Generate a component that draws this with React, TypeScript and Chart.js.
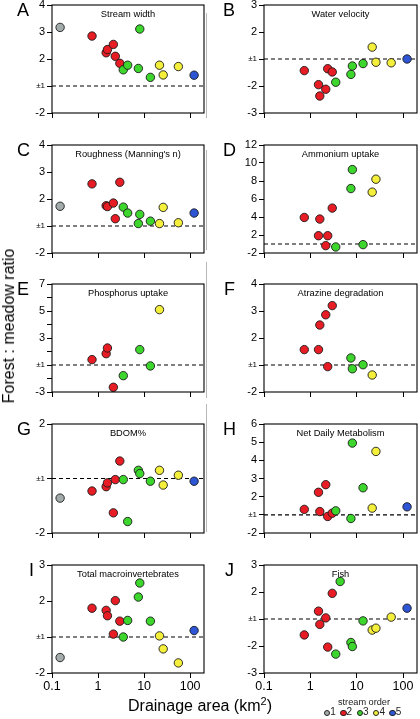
import React, { useEffect, useRef } from 'react';
import { Chart, registerables } from 'chart.js';

Chart.register(...registerables);

const FONT = '"Liberation Sans", Arial, Helvetica, sans-serif';

// ---- data ----
const drainageArea = [0.15, 0.74, 1.5, 1.6, 2.15, 2.37, 2.97, 3.53, 4.4, 7.5, 8.06, 13.7, 21.6, 26, 55.5, 122];
const streamOrder = [1, 2, 2, 2, 2, 2, 2, 3, 3, 3, 3, 3, 4, 4, 4, 5];
const orderLabels = ['1', '2', '3', '4', '5'];
const orderColors = ['#a3abab', '#e81c24', '#3cd62c', '#f4ef3a', '#2e55d4'];

// forest : meadow ratio (negative = meadow greater, i.e. -x means 1/x)
const streamWidth = [3.17, 2.85, 2.23, 2.35, 2.54, 2.1, 1.84, 1.6, 1.77, 1.65, 3.11, 1.32, 1.77, 1.41, 1.72, 1.4];
const waterVelocity = [null, -1.43, -1.95, -2.37, -2.12, -1.36, -1.48, -1.86, null, -1.57, -1.26, -1.17, 1.44, -1.12, -1.14, 1.0];
const roughness = [1.73, 2.56, 1.75, 1.72, 1.85, 1.27, 2.62, 1.7, 1.48, 1.09, 1.43, 1.18, 1.09, 1.69, 1.12, 1.48];
const ammoniumUptake = [null, 3.95, 1.92, 3.77, -1.18, 1.92, 4.99, -1.33, null, 7.16, 9.27, -1.07, 6.76, 8.2, null, null];
const phosphorusUptake = [null, 1.4, 1.84, 2.26, -2.65, null, null, -1.79, null, null, 2.14, -1.07, 5.1, null, null, null];
const atrazineDegradation = [null, 1.57, 1.57, 2.48, 2.86, -1.06, 3.2, null, null, 1.26, -1.14, 1.01, -1.37, null, null, null];
const bdomPercent = [-1.36, -1.23, -1.15, -1.08, -1.63, -1.02, 1.32, -1.02, -1.79, 1.15, 1.09, -1.05, 1.15, -1.12, 1.06, -1.05];
const netDailyMetabolism = [null, 1.3, 2.24, 1.18, 2.66, -1.09, 1.09, 1.22, null, -1.2, 4.95, 2.49, 1.37, 4.49, null, 1.44];
const totalMacroinvertebrates = [-1.57, 1.8, 1.74, 1.59, 1.08, 2.01, 1.44, 1.0, 1.46, 2.11, 2.5, 1.44, 1.03, -1.33, -1.72, 1.18];
const fish = [null, -1.59, 1.29, -1.2, 1.04, -2.04, 1.95, -2.3, 2.39, -1.87, -2.02, -1.07, -1.41, -1.34, 1.07, 1.4];

// tick labels (ratio space)
const ticksStreamWidth = [-2, 1, 2, 3, 4];
const ticksWaterVelocity = [-3, -2, 1, 2, 3];
const ticksRoughness = [-2, 1, 2, 3, 4];
const ticksAmmonium = [-2, 2, 4, 6, 8, 10, 12];
const ticksPhosphorus = [-3, 1, 3, 5, 7];
const minorPhosphorus = [-2, 2, 4, 6];
const ticksAtrazine = [-2, 1, 2, 3, 4];
const ticksBdom = [-2, 1, 2];
const ticksMetabolism = [-2, 1, 2, 3, 4, 5, 6];
const ticksMacro = [-2, 1, 2, 3];
const ticksFish = [-3, -2, 1, 2, 3];

const xTickValues = [0.1, 1, 10, 100];
const xMin = 0.1;
const xMax = 200;

const panels = [
  { letter: 'A', title: 'Stream width', values: streamWidth, ticks: ticksStreamWidth, minor: [] as number[] },
  { letter: 'B', title: 'Water velocity', values: waterVelocity, ticks: ticksWaterVelocity, minor: [] as number[] },
  { letter: 'C', title: "Roughness (Manning's n)", values: roughness, ticks: ticksRoughness, minor: [] as number[] },
  { letter: 'D', title: 'Ammonium uptake', values: ammoniumUptake, ticks: ticksAmmonium, minor: [] as number[] },
  { letter: 'E', title: 'Phosphorus uptake', values: phosphorusUptake, ticks: ticksPhosphorus, minor: minorPhosphorus },
  { letter: 'F', title: 'Atrazine degradation', values: atrazineDegradation, ticks: ticksAtrazine, minor: [] as number[] },
  { letter: 'G', title: 'BDOM%', values: bdomPercent, ticks: ticksBdom, minor: [] as number[] },
  { letter: 'H', title: 'Net Daily Metabolism', values: netDailyMetabolism, ticks: ticksMetabolism, minor: [] as number[] },
  { letter: 'I', title: 'Total macroinvertebrates', values: totalMacroinvertebrates, ticks: ticksMacro, minor: [] as number[] },
  { letter: 'J', title: 'Fish', values: fish, ticks: ticksFish, minor: [] as number[] },
];

// ---- layout ----
const COL_LEFT = [0, 210];
const PLOT_LEFT = [52, 264];
const PLOT_RIGHT = [204, 417];
const ROW_TOP = [5, 145, 284, 424, 565];
const ROW_BOTTOM = [113, 253, 392, 533, 673];
const LETTER_X = [17, 223, 17, 223, 17, 224, 17, 223, 29, 225];

const toInternal = (v: number) => (v >= 1 ? v - 1 : v + 1);
const tickLabel = (t: number) => {
  const r = Math.round(t * 1000) / 1000;
  if (Math.abs(r) < 1e-9) return '±1';
  return String(r > 0 ? r + 1 : r - 1);
};

function Panel({ p, col, row }: { p: (typeof panels)[number]; col: number; row: number }) {
  const ref = useRef<HTMLCanvasElement>(null);
  const left = COL_LEFT[col];
  const width = 210;
  const padTop = 10;
  const isBottom = row === 4;
  const xH = isBottom ? 26 : 9;
  const plotH = ROW_BOTTOM[row] - ROW_TOP[row];
  const height = padTop + plotH + xH;
  const canvasTop = ROW_TOP[row] - padTop;

  useEffect(() => {
    const canvas = ref.current;
    if (!canvas) return;
    const labeled = p.ticks.map(toInternal);
    const minorT = p.minor.map(toInternal);
    const allTicks = [...labeled, ...minorT].sort((a, b) => a - b);
    const yMin = Math.min(...labeled);
    const yMax = Math.max(...labeled);

    const pts: { x: number; y: number }[] = [];
    const cols: string[] = [];
    p.values.forEach((v, i) => {
      if (v === null || v === undefined) return;
      pts.push({ x: drainageArea[i], y: toInternal(v as number) });
      cols.push(orderColors[streamOrder[i] - 1]);
    });

    const title = p.title;
    const framePlugin = {
      id: 'frameTitle',
      afterDraw(chart: any) {
        const { ctx, chartArea: a } = chart;
        ctx.save();
        ctx.strokeStyle = '#000';
        ctx.lineWidth = 1.1;
        ctx.strokeRect(a.left, a.top, a.right - a.left, a.bottom - a.top);
        ctx.fillStyle = '#000';
        ctx.font = `9.3px ${FONT}`;
        ctx.textAlign = 'center';
        ctx.textBaseline = 'alphabetic';
        ctx.fillText(title, (a.left + a.right) / 2, a.top + 11.5);
        ctx.restore();
      },
    };

    const chart = new Chart(canvas, {
      type: 'scatter',
      data: {
        datasets: [
          {
            type: 'scatter',
            data: pts,
            pointRadius: 4.2,
            pointBorderWidth: 0.9,
            pointBorderColor: '#1a1a1a',
            pointBackgroundColor: cols,
            backgroundColor: cols,
          } as any,
          {
            type: 'line',
            data: [
              { x: xMin, y: 0 },
              { x: xMax, y: 0 },
            ],
            borderColor: '#000',
            borderWidth: 1.2,
            borderDash: [4, 3],
            pointRadius: 0,
            fill: false,
          } as any,
        ],
      },
      options: {
        animation: false,
        responsive: false,
        events: [],
        layout: { autoPadding: false, padding: { top: padTop, left: 0, bottom: 0, right: left + width - PLOT_RIGHT[col] } } as any,
        plugins: { legend: { display: false }, tooltip: { enabled: false } },
        scales: {
          x: {
            type: 'logarithmic',
            min: xMin,
            max: xMax,
            afterBuildTicks: (s: any) => {
              s.ticks = xTickValues.map((v) => ({ value: v }));
            },
            afterFit: (s: any) => {
              s.height = xH;
            },
            grid: { drawOnChartArea: false, drawTicks: true, tickLength: 5, color: '#000', tickColor: '#000', lineWidth: 1 },
            border: { display: false },
            ticks: {
              autoSkip: false,
              maxRotation: 0,
              padding: 1,
              color: '#000',
              font: { family: FONT, size: 12.5 },
              callback: (v: any) => (isBottom ? String(v) : ''),
            },
          },
          y: {
            type: 'linear',
            min: yMin,
            max: yMax,
            afterBuildTicks: (s: any) => {
              s.ticks = allTicks.map((v) => ({ value: v }));
            },
            afterFit: (s: any) => {
              s.width = PLOT_LEFT[col] - left;
            },
            grid: { drawOnChartArea: false, drawTicks: true, tickLength: 5, color: '#000', tickColor: '#000', lineWidth: 1 },
            border: { display: false },
            ticks: {
              autoSkip: false,
              padding: 2,
              color: '#000',
              font: (ctx: any) => ({ family: FONT, size: ctx.tick && Math.abs(ctx.tick.value) < 1e-9 ? 8 : 11 }),
              callback: (v: any) => (labeled.some((t) => Math.abs(t - v) < 1e-9) ? tickLabel(v) : ''),
            },
          },
        },
      } as any,
      plugins: [framePlugin as any],
    });
    return () => chart.destroy();
  }, []);

  return (
    <canvas
      ref={ref}
      width={width}
      height={height}
      style={{ position: 'absolute', left, top: canvasTop, width, height, display: 'block' }}
    />
  );
}

const grayLines = [
  [13, 118],
  [150, 250],
  [262, 398],
  [404, 532],
];

export default function App() {
  return (
    <div
      style={{
        position: 'absolute',
        left: 0,
        top: 0,
        width: 420,
        height: 719,
        background: '#fff',
        overflow: 'hidden',
        fontFamily: FONT,
        color: '#000',
      }}
    >
      {panels.map((p, i) => (
        <Panel key={i} p={p} col={i % 2} row={Math.floor(i / 2)} />
      ))}
      {panels.map((p, i) => (
        <div
          key={'l' + i}
          style={{
            position: 'absolute',
            left: LETTER_X[i],
            top: ROW_TOP[Math.floor(i / 2)] - 4.3,
            fontSize: 18,
            lineHeight: '18px',
            whiteSpace: 'nowrap',
          }}
        >
          {p.letter}
        </div>
      ))}
      {grayLines.map((g, i) => (
        <div
          key={'g' + i}
          style={{ position: 'absolute', left: 206, top: g[0], width: 1, height: g[1] - g[0], background: '#b8b8b8' }}
        />
      ))}
      <div
        style={{
          position: 'absolute',
          left: 9,
          top: 326,
          transform: 'translate(-50%, -50%) rotate(-90deg)',
          fontSize: 16,
          lineHeight: '16px',
          whiteSpace: 'nowrap',
        }}
      >
        Forest : meadow ratio
      </div>
      <div
        style={{
          position: 'absolute',
          left: 200,
          top: 698,
          transform: 'translateX(-50%)',
          fontSize: 16,
          lineHeight: '16px',
          whiteSpace: 'nowrap',
        }}
      >
        Drainage area (km<span style={{ fontSize: 11, position: 'relative', top: -6 }}>2</span>)
      </div>
      <div
        style={{
          position: 'absolute',
          left: 364,
          top: 698,
          transform: 'translateX(-50%)',
          fontSize: 9.2,
          lineHeight: '9.2px',
          whiteSpace: 'nowrap',
          color: '#222',
        }}
      >
        stream order
      </div>
      {orderLabels.map((l, i) => (
        <React.Fragment key={'o' + i}>
          <div
            style={{
              position: 'absolute',
              left: 326.7 + i * 16.4 - 3,
              top: 712.5 - 3,
              width: 4.6,
              height: 4.6,
              borderRadius: '50%',
              background: orderColors[i],
              border: '0.8px solid #222',
            }}
          />
          <div
            style={{
              position: 'absolute',
              left: 326.7 + i * 16.4 + 3.5,
              top: 707,
              fontSize: 10,
              lineHeight: '10px',
              color: '#222',
            }}
          >
            {l}
          </div>
        </React.Fragment>
      ))}
    </div>
  );
}
